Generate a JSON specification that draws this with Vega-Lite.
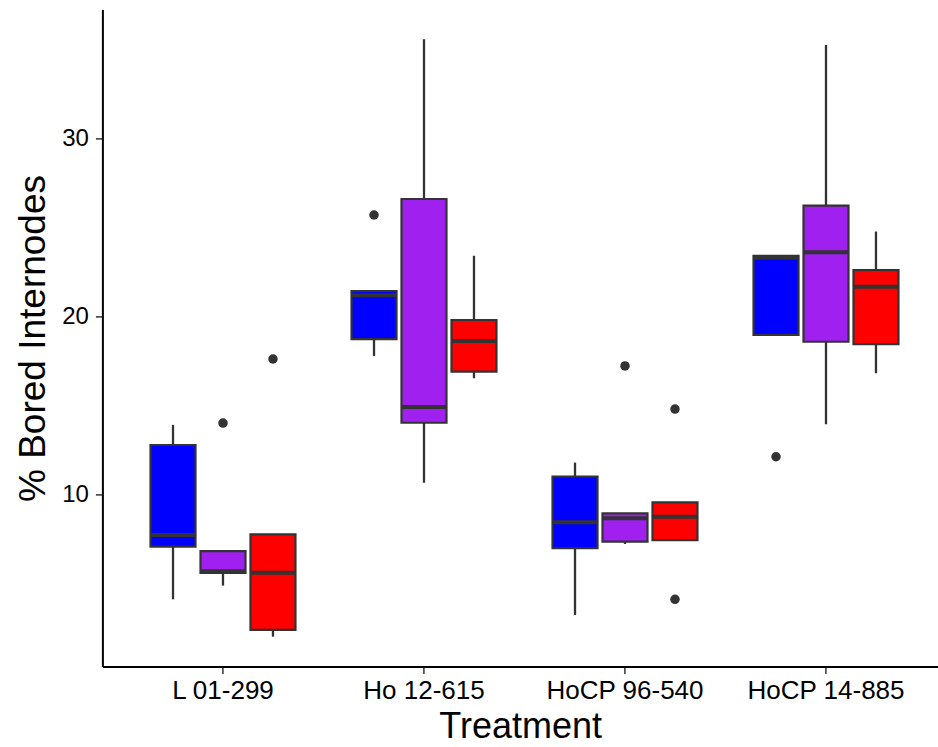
{
  "$schema": "https://vega.github.io/schema/vega-lite/v6.json",
  "width": 835.6,
  "height": 657.2,
  "autosize": {"type": "none"},
  "padding": {"left": 102.4, "top": 9.4, "right": 0, "bottom": 80.4},
  "background": "white",
  "config": {
    "view": {"stroke": null},
    "font": "Liberation Sans",
    "axis": {
      "grid": false,
      "domainColor": "#000000",
      "domainWidth": 2,
      "tickColor": "#333333",
      "tickWidth": 1.5,
      "tickSize": 7,
      "labelColor": "#000000",
      "titleColor": "#000000",
      "labelFont": "Liberation Sans",
      "titleFont": "Liberation Sans",
      "titleFontWeight": "normal"
    }
  },
  "datasets": {
    "boxes": [
      {"Treatment": "L 01-299", "Group": "G1", "lower": 4.1, "q1": 7.06, "median": 7.71, "q3": 12.77, "upper": 13.9},
      {"Treatment": "L 01-299", "Group": "G2", "lower": 4.87, "q1": 5.58, "median": 5.68, "q3": 6.81, "upper": 6.81},
      {"Treatment": "L 01-299", "Group": "G3", "lower": 2.0, "q1": 2.38, "median": 5.59, "q3": 7.75, "upper": 7.75},
      {"Treatment": "Ho 12-615", "Group": "G1", "lower": 17.77, "q1": 18.72, "median": 21.18, "q3": 21.42, "upper": 21.42},
      {"Treatment": "Ho 12-615", "Group": "G2", "lower": 10.65, "q1": 14.02, "median": 14.9, "q3": 26.59, "upper": 35.56},
      {"Treatment": "Ho 12-615", "Group": "G3", "lower": 16.52, "q1": 16.89, "median": 18.61, "q3": 19.79, "upper": 23.4},
      {"Treatment": "HoCP 96-540", "Group": "G1", "lower": 3.22, "q1": 6.97, "median": 8.43, "q3": 10.99, "upper": 11.78},
      {"Treatment": "HoCP 96-540", "Group": "G2", "lower": 7.21, "q1": 7.34, "median": 8.65, "q3": 8.93, "upper": 8.93},
      {"Treatment": "HoCP 96-540", "Group": "G3", "lower": 7.42, "q1": 7.42, "median": 8.74, "q3": 9.55, "upper": 9.55},
      {"Treatment": "HoCP 14-885", "Group": "G1", "lower": 18.95, "q1": 18.95, "median": 23.29, "q3": 23.4, "upper": 23.4},
      {"Treatment": "HoCP 14-885", "Group": "G2", "lower": 13.93, "q1": 18.57, "median": 23.6, "q3": 26.22, "upper": 35.24},
      {"Treatment": "HoCP 14-885", "Group": "G3", "lower": 16.8, "q1": 18.43, "median": 21.66, "q3": 22.6, "upper": 24.76}
    ],
    "outliers": [
      {"Treatment": "L 01-299", "Group": "G2", "value": 14.0},
      {"Treatment": "L 01-299", "Group": "G3", "value": 17.6},
      {"Treatment": "Ho 12-615", "Group": "G1", "value": 25.69},
      {"Treatment": "HoCP 96-540", "Group": "G2", "value": 17.21},
      {"Treatment": "HoCP 96-540", "Group": "G3", "value": 14.79},
      {"Treatment": "HoCP 96-540", "Group": "G3", "value": 4.1},
      {"Treatment": "HoCP 14-885", "Group": "G1", "value": 12.11}
    ]
  },
  "encoding": {
    "x": {
      "field": "Treatment",
      "type": "nominal",
      "sort": ["L 01-299", "Ho 12-615", "HoCP 96-540", "HoCP 14-885"],
      "scale": {"paddingInner": 0.254, "paddingOuter": 0.2056, "align": 0.552},
      "axis": {"title": "Treatment", "labelAngle": 0, "labelFontSize": 26, "titleFontSize": 36, "labelPadding": 4, "titlePadding": 6}
    },
    "xOffset": {
      "field": "Group",
      "type": "nominal",
      "sort": ["G1", "G2", "G3"],
      "scale": {"paddingInner": 0.1, "paddingOuter": 0.05}
    }
  },
  "layer": [
    {
      "data": {"name": "boxes"},
      "mark": {"type": "rule", "color": "#333333", "strokeWidth": 2.3},
      "encoding": {
        "y": {
          "field": "lower",
          "type": "quantitative",
          "scale": {"domain": [0.32, 37.24], "nice": false, "zero": false},
          "axis": {"title": "% Bored Internodes", "values": [10, 20, 30], "labelFontSize": 24, "titleFontSize": 37, "labelPadding": 7, "titlePadding": 9}
        },
        "y2": {"field": "upper"}
      }
    },
    {
      "data": {"name": "boxes"},
      "mark": {"type": "bar", "stroke": "#333333", "strokeWidth": 2.2},
      "encoding": {
        "y": {"field": "q1", "type": "quantitative"},
        "y2": {"field": "q3"},
        "fill": {
          "field": "Group",
          "type": "nominal",
          "scale": {"domain": ["G1", "G2", "G3"], "range": ["#0000FF", "#A020F0", "#FF0000"]},
          "legend": null
        }
      }
    },
    {
      "data": {"name": "boxes"},
      "mark": {"type": "tick", "color": "#333333", "thickness": 4, "size": 45, "opacity": 1},
      "encoding": {
        "y": {"field": "median", "type": "quantitative"}
      }
    },
    {
      "data": {"name": "outliers"},
      "mark": {"type": "circle", "color": "#333333", "size": 90, "opacity": 1},
      "encoding": {
        "y": {"field": "value", "type": "quantitative"}
      }
    }
  ]
}
